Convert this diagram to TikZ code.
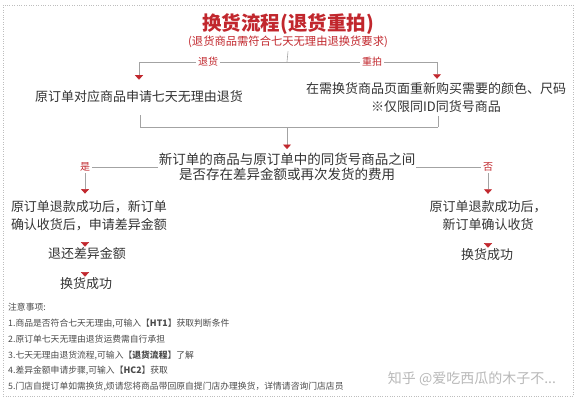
\documentclass[tikz,border=0pt]{standalone}
\usepackage{fontspec}
\setmainfont{Noto Sans CJK SC}
\usetikzlibrary{arrows.meta}

\definecolor{flowred}{HTML}{C1272D}
\definecolor{flowgray}{HTML}{A3A3A3}
\definecolor{flowtext}{HTML}{333333}
\definecolor{notetext}{HTML}{4A4A4A}

\tikzset{
  stepbox/.style={text=flowtext, font=\fontsize{13}{18}\selectfont, align=center, inner sep=1pt},
  branchtag/.style={text=flowred, fill=white, font=\fontsize{10}{10}\selectfont, inner sep=2pt},
  flowline/.style={draw=flowgray, line width=0.6pt},
  redtip/.style={-{Triangle[width=8pt,length=4.5pt,color=flowred,fill=flowred]}},
  tiponly/.style={redtip, draw=white},
}

\begin{document}
\begin{tikzpicture}[x=1pt,y=-1pt]
    \useasboundingbox (0,0) rectangle (576,400) ;
    \draw[flowgray!70, dotted] (3,5) rectangle (573,396) ;

    \node[text=flowred, font=\fontsize{19.5}{20}\selectfont\bfseries] (title) at (288,24) {换货流程(退货重拍)} ;
    \node[text=flowred, font=\fontsize{11.3}{12}\selectfont] (subtitle) at (288,42) {(退货商品需符合七天无理由退换货要求)} ;

    \node[stepbox] (refund) at (139,97) {原订单对应商品申请七天无理由退货} ;
    \node[stepbox] (rebuy) at (436,98) {在需换货商品页面重新购买需要的颜色、尺码\\※仅限同ID同货号商品} ;
    \node[stepbox, font=\fontsize{13.5}{15}\selectfont] (decide) at (287,167) {新订单的商品与原订单中的同货号商品之间\\是否存在差异金额或再次发货的费用} ;
    \node[stepbox] (yesrefund) at (89,216) {原订单退款成功后，新订单\\确认收货后，申请差异金额} ;
    \node[stepbox] (yesreturn) at (87,254) {退还差异金额} ;
    \node[stepbox] (yesdone) at (86,284) {换货成功} ;
    \node[stepbox] (norefund) at (488,216) {原订单退款成功后，\\新订单确认收货} ;
    \node[stepbox] (nodone) at (487,255) {换货成功} ;

    \coordinate (split) at (287,62) ;
    \coordinate (splitL) at (139,62) ;
    \coordinate (splitR) at (437,62) ;
    \coordinate (mergeL) at (140,127) ;
    \coordinate (mergeR) at (438,127) ;
    \coordinate (merge) at (287,127) ;
    \coordinate (yesturn) at (85,167) ;
    \coordinate (noturn) at (488,167) ;

    \draw[flowline] (subtitle.south) -- (split) ;
    \draw[flowline] (splitL) -- (splitR) ;
    \draw[flowline, redtip, shorten >=10pt] (splitL) -- (refund.north -| splitL) ;
    \draw[flowline, redtip, shorten >=3pt] (splitR) -- (rebuy.north -| splitR) ;
    \draw[flowline, shorten <=11pt] (refund.south -| mergeL) -- (mergeL) -- (mergeR) ;
    \draw[flowline, shorten >=2pt] (mergeR) -- (rebuy.south -| mergeR) ;
    \draw[flowline, redtip, shorten >=3pt] (merge) -- (decide.north) ;
    \draw[flowline] (decide.west) -- (yesturn) ;
    \draw[flowline] (decide.east) -- (noturn) ;
    \draw[flowline, redtip, shorten >=6pt] (yesturn) -- (yesrefund.north -| yesturn) ;
    \draw[flowline, redtip, shorten >=6pt] (noturn) -- (norefund.north -| noturn) ;
    \draw[tiponly] (yesrefund.south -| yesturn) -- (yesreturn.north -| yesturn) ;
    \draw[tiponly] (yesreturn.south -| yesturn) -- (yesdone.north -| yesturn) ;
    \draw[tiponly] (norefund.south -| noturn) -- (nodone.north -| noturn) ;

    \node[branchtag] (tagreturn) at (208,62) {退货} ;
    \node[branchtag] (tagrebuy) at (372,62) {重拍} ;
    \node[branchtag] (tagyes) at (yesturn) {是} ;
    \node[branchtag] (tagno) at (noturn) {否} ;

    \node[anchor=north west, align=left, text=notetext, inner sep=0pt, font=\fontsize{8.8}{15.8}\selectfont] (notes) at (8,303)
      {注意事项:\\
       1.商品是否符合七天无理由,可输入【\textbf{HT1}】获取判断条件\\
       2.原订单七天无理由退货运费需自行承担\\
       3.七天无理由退货流程,可输入【\textbf{退货流程}】了解\\
       4.差异金额申请步骤,可输入【\textbf{HC2}】获取\\
       5.门店自提订单如需换货,烦请您将商品带回原自提门店办理换货，详情请咨询门店店员} ;
    \node[text=black!28, font=\fontsize{14}{14}\selectfont] (mark) at (472,379) {知乎 @爱吃西瓜的木子不...} ;
  \end{tikzpicture}
\end{document}
